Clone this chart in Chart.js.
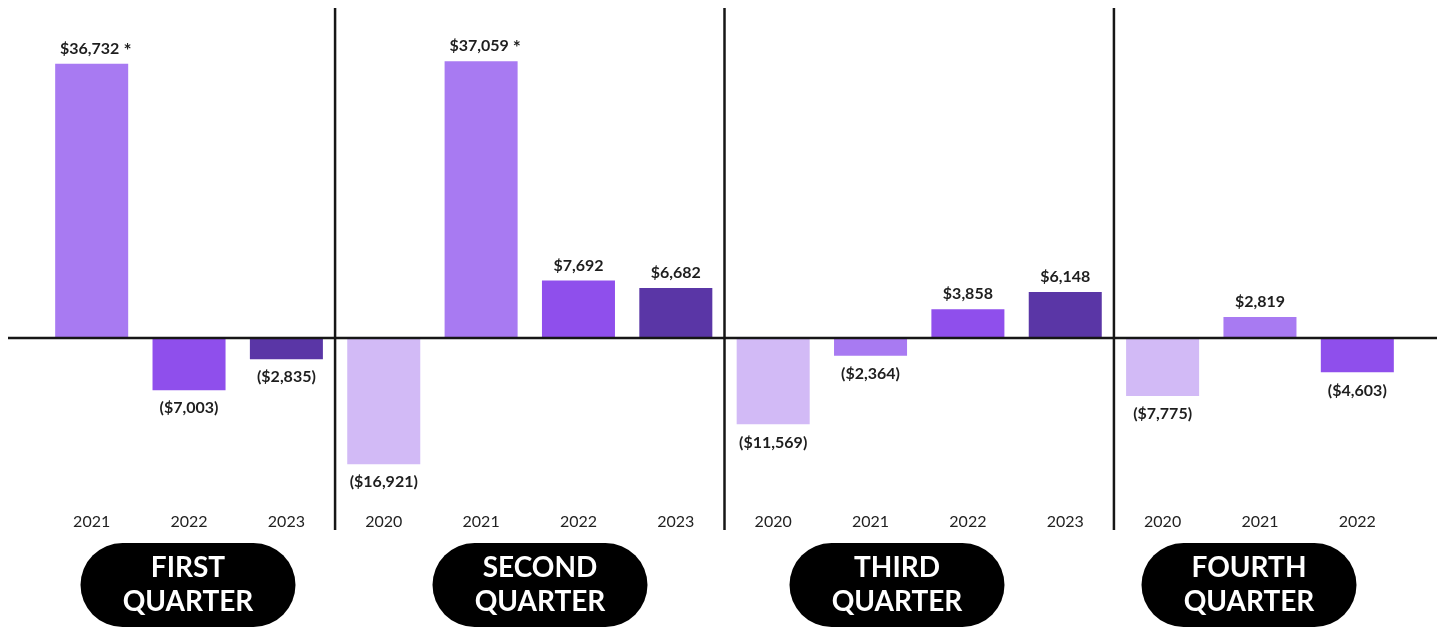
<!DOCTYPE html>
<html>
<head>
<meta charset="utf-8">
<script src="https://cdn.jsdelivr.net/npm/chart.js@4.4.0/dist/chart.umd.min.js"></script>
<style>
  html, body { margin: 0; padding: 0; background: #fff; }
  #wrap { width: 1441px; height: 628px; position: relative; }
</style>
</head>
<body>
<div id="wrap"><canvas id="qChart" width="1441" height="628"></canvas></div>
<script>
// ── data ──
const years    = ['2021', '2022', '2023', '2020', '2021', '2022', '2023', '2020', '2021', '2022', '2023', '2020', '2021', '2022'];
const profits  = [36732, -7003, -2835, -16921, 37059, 7692, 6682, -11569, -2364, 3858, 6148, -7775, 2819, -4603];
const flagged  = [true, false, false, false, true, false, false, false, false, false, false, false, false, false];
const quarters = [['FIRST', 'QUARTER'], ['SECOND', 'QUARTER'], ['THIRD', 'QUARTER'], ['FOURTH', 'QUARTER']];
const groupSizes = [3, 4, 4, 3];

// ── style ──
const yearColor = { '2020': '#d2baf6', '2021': '#a87af2', '2022': '#8f4fec', '2023': '#5a36a6' };
const pillCenters = [188, 540, 897, 1249];
const INK = '#161616';

function fmt(v) {
  const s = '$' + Math.abs(v).toLocaleString('en-US');
  return v < 0 ? '(' + s + ')' : s;
}

const overlay = {
  id: 'overlay',
  afterDatasetsDraw(chart) {
    const { ctx, scales: { x, y } } = chart;
    const zero = y.getPixelForValue(0);
    ctx.save();

    // value labels
    const meta = chart.getDatasetMeta(0);
    ctx.fillStyle = '#1e1e1e';
    ctx.textAlign = 'center';
    ctx.textBaseline = 'middle';
    meta.data.forEach((bar, i) => {
      const v = profits[i];
      const txt = fmt(v);
      const ty = v >= 0 ? bar.y - 15 : bar.y + 18;
      ctx.font = 'bold 16px Lato';
      if (flagged[i]) {
        const w = ctx.measureText(txt).width;
        ctx.fillText(txt, bar.x - 2, ty);
        ctx.font = 'bold 19px Lato';
        ctx.textAlign = 'left';
        ctx.fillText('*', bar.x - 2 + w / 2 + 4, ty + 2);
        ctx.textAlign = 'center';
      } else {
        ctx.fillText(txt, bar.x, ty);
      }
    });

    // zero line
    ctx.strokeStyle = INK;
    ctx.lineWidth = 2.5;
    ctx.beginPath();
    ctx.moveTo(8, zero);
    ctx.lineTo(1437, zero);
    ctx.stroke();

    // quarter dividers
    let idx = 0;
    groupSizes.slice(0, -1).forEach(n => {
      idx += n;
      const px = (x.getPixelForValue(idx - 1) + x.getPixelForValue(idx)) / 2;
      ctx.beginPath();
      ctx.moveTo(px, 8);
      ctx.lineTo(px, 530);
      ctx.stroke();
    });

    // quarter pills
    quarters.forEach((q, i) => {
      const cx = pillCenters[i], w = 215, h = 84, top = 543;
      ctx.fillStyle = '#000';
      ctx.beginPath();
      ctx.roundRect(cx - w / 2, top, w, h, h / 2);
      ctx.fill();
      ctx.fillStyle = '#fff';
      ctx.font = 'bold 28px Lato';
      ctx.fillText(q[0], cx, top + 25);
      ctx.fillText(q[1], cx, top + 59);
    });
    ctx.restore();
  }
};

new Chart(document.getElementById('qChart'), {
  type: 'bar',
  data: {
    labels: years,
    datasets: [{
      data: profits,
      backgroundColor: years.map(yr => yearColor[yr]),
      borderWidth: 0,
      barPercentage: 0.75,
      categoryPercentage: 1.0
    }]
  },
  options: {
    responsive: false,
    animation: false,
    layout: { padding: { left: 43, right: 35, top: 8, bottom: 0 } },
    plugins: { legend: { display: false }, tooltip: { enabled: false } },
    scales: {
      x: {
        grid: { display: false, drawTicks: false },
        border: { display: false },
        ticks: { color: '#222', font: { family: 'Lato', size: 16 }, padding: 12, maxRotation: 0 },
        afterFit(scale) { scale.height = 128; }
      },
      y: {
        display: false,
        min: -21700,
        max: 44200
      }
    }
  },
  plugins: [overlay]
});
</script>
</body>
</html>
